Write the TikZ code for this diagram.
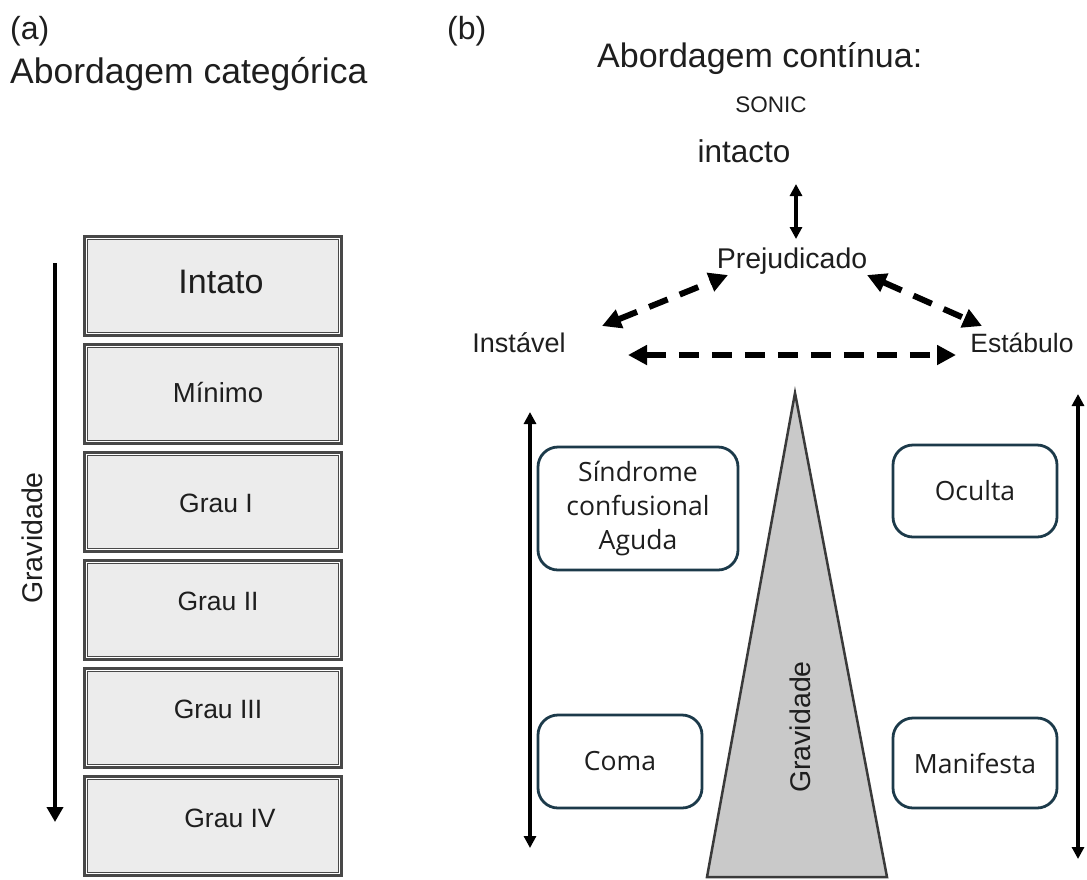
\documentclass[tikz,border=0pt]{standalone}
\usepackage{fontspec}
\setmainfont{Liberation Sans}
\newfontfamily\boxfont{Open Sans}
\usetikzlibrary{arrows.meta}
\definecolor{inkgray}{HTML}{1E1E1E}
\definecolor{gradefill}{HTML}{ECECEC}
\definecolor{gradeedge}{HTML}{484848}
\definecolor{conefill}{HTML}{C9C9C9}
\definecolor{coneedge}{HTML}{3A3A3A}
\definecolor{stateedge}{HTML}{1C3A4A}
\tikzset{
  fsz/.style={font=\fontsize{#1}{#1}\selectfont},
  txt/.style={inner sep=0pt, text=inkgray},
  gradebox/.style={draw=gradeedge, fill=gradefill, line width=4.5pt,
    minimum width=255pt, minimum height=97pt, inner sep=0pt},
  gradeinner/.style={white, line width=1.2pt},
  sevarrow/.style={line width=4pt, -{Triangle[length=15pt,width=16pt]}},
  twoway/.style={line width=3.4pt,
    {Triangle[length=12pt,width=12pt]}-{Triangle[length=12pt,width=12pt]}},
  dashtwoway/.style={line width=6pt, dash pattern=on 20pt off 13pt,
    {Triangle[length=19pt,width=19pt]}-{Triangle[length=19pt,width=19pt]}},
  statebox/.style={draw=stateedge, fill=white, line width=2.8pt,
    rounded corners=20pt, inner sep=0pt, align=center, text=inkgray,
    font=\boxfont\fontsize{26.5}{34}\selectfont},
}
\begin{document}
\begin{tikzpicture}[x=1pt,y=-1pt]
\useasboundingbox (0,0) rectangle (1087,879);

% ---------- (a) categorical grading ----------
\node[txt, fsz=32, anchor=west] (alabel) at (10,31) {(a)};
\node[txt, fsz=35.5, anchor=base west] (atitle) at (10,83) {Abordagem categórica};

\foreach \i/\y in {0/286,1/394,2/502,3/610,4/718,5/826}{
  \node[gradebox] (g\i) at (213,\y) {};
  \draw[gradeinner]
    ([shift={(3.4pt,-3.4pt)}]g\i.north west) rectangle ([shift={(-3.4pt,3.4pt)}]g\i.south east);
}

\node[txt, fsz=34, anchor=base] (t0) at (221,293) {Intato};
\node[txt, fsz=27.5, anchor=base] (t1) at (218,402) {Mínimo};
\node[txt, fsz=26.5, anchor=base] (t2) at (216,512) {Grau I};
\node[txt, fsz=26.5, anchor=base] (t3) at (218,610) {Grau II};
\node[txt, fsz=26.5, anchor=base] (t4) at (218,718) {Grau III};
\node[txt, fsz=26.5, anchor=base] (t5) at (230,827) {Grau IV};

\coordinate (sevtop) at (55,263);
\coordinate (sevbot) at (55,822);
\draw[sevarrow] (sevtop) -- (sevbot);
\node[txt, fsz=28.5, rotate=90] (asev) at (32,538) {Gravidade};

% ---------- (b) continuous approach ----------
\node[txt, fsz=32, anchor=west] (blabel) at (447,31) {(b)};
\node[txt, fsz=34, anchor=base west] (btitle) at (597,67) {Abordagem contínua:};
\node[txt, fsz=22.5, anchor=base] (sonic) at (771,112) {SONIC};
\node[txt, fsz=31.5, anchor=base] (intacto) at (744,162) {intacto};
\node[txt, fsz=28.5, anchor=base] (prej) at (792,268) {Prejudicado};
\node[txt, fsz=27, anchor=base] (inst) at (519,352) {Instável};
\node[txt, fsz=26.5, anchor=base] (estab) at (1022,352) {Estábulo};

% transitions between states
\coordinate (ip1) at (796,184);
\coordinate (ip2) at (796,239);
\draw[twoway] (ip1) -- (ip2);
\coordinate (pi1) at (602,326);
\coordinate (pi2) at (728,275);
\draw[dashtwoway] (pi1) -- (pi2);
\coordinate (pe1) at (867,275);
\coordinate (pe2) at (982,326);
\draw[dashtwoway] (pe1) -- (pe2);
\coordinate (ie1) at (628,355);
\coordinate (ie2) at (956,355);
\draw[dashtwoway] (ie1) -- (ie2);

% severity cone
\coordinate (apex) at (795,393);
\coordinate (baseL) at (707,877);
\coordinate (baseR) at (887,877);
\draw[fill=conefill, draw=coneedge, line width=2.5pt, line join=miter]
  (apex) -- (baseR) -- (baseL) -- cycle;
\node[txt, fsz=28.5, rotate=90] (bsev) at (800,727) {Gravidade};

% side scales
\coordinate (ls1) at (530,412);
\coordinate (ls2) at (530,848);
\draw[twoway] (ls1) -- (ls2);
\coordinate (rs1) at (1078,394);
\coordinate (rs2) at (1078,859);
\draw[twoway] (rs1) -- (rs2);

% clinical presentations
\node[statebox, minimum width=200pt, minimum height=123pt] (sca) at (638,508.5)
  {Síndrome\\confusional\\Aguda};
\node[statebox, minimum width=164pt, minimum height=93pt] (coma) at (620,761.5) {Coma};
\node[statebox, minimum width=164pt, minimum height=92pt] (oculta) at (975,491) {Oculta};
\node[statebox, minimum width=164pt, minimum height=90pt] (manif) at (975,763) {Manifesta};
\end{tikzpicture}
\end{document}
